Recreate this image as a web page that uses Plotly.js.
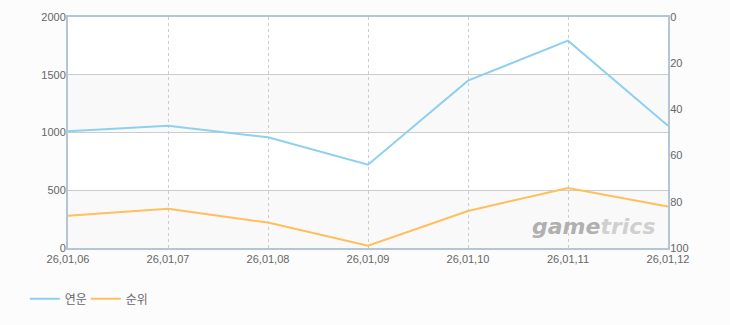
<!DOCTYPE html>
<html>
<head>
<meta charset="utf-8">
<script src="https://cdn.plot.ly/plotly-3.0.1.min.js"></script>
<style>html,body{margin:0;padding:0;background:#fcfcfc;}</style>
</head>
<body>
<div id="chart" style="width:730px;height:325px;"></div>
<script>
const dates = ["26,01,06","26,01,07","26,01,08","26,01,09","26,01,10","26,01,11","26,01,12"];
const yeonun = [1010, 1059, 958, 721, 1449, 1795, 1059];
const rank = [86, 83, 89, 99, 84, 74, 82];
const leftTicks = [0, 500, 1000, 1500, 2000];
const rightTicks = [0, 20, 40, 60, 80, 100];
const bands = [[0, 500], [1000, 1500]];

const xIdx = dates.map((d, i) => i);

const traces = [
  {x: xIdx, y: yeonun, name: "연운", type: "scatter", mode: "lines",
   line: {color: "#8fd0f0", width: 2}, yaxis: "y"},
  {x: xIdx, y: rank, name: "순위", type: "scatter", mode: "lines",
   line: {color: "#ffbf5a", width: 2}, yaxis: "y2"}
];

const shapes = bands.map(b => ({type: "rect", xref: "paper", yref: "y", x0: 0, x1: 1,
  y0: b[0], y1: b[1], fillcolor: "#f9f9f9", line: {width: 0}, layer: "below"}));

const tickFont = {family: "Liberation Sans, DejaVu Sans, sans-serif", size: 11, color: "#666"};
const layout = {
  width: 730, height: 325,
  margin: {l: 68, r: 62, t: 17, b: 77},
  paper_bgcolor: "#fcfcfc", plot_bgcolor: "#ffffff",
  showlegend: true,
  legend: {orientation: "h", x: -0.072, y: -0.22, xanchor: "left", yanchor: "middle",
    font: {family: "Noto Sans CJK KR, sans-serif", size: 12, color: "#666"},
    itemwidth: 30, entrywidth: 16, bgcolor: "rgba(0,0,0,0)"},
  xaxis: {range: [0, 6], tickvals: xIdx, ticktext: dates, showgrid: true,
    gridcolor: "#cccccc", griddash: "3px,3px", gridwidth: 1, zeroline: false,
    showline: true, linecolor: "#b3c5d8", linewidth: 2, mirror: true,
    ticks: "", tickfont: tickFont, fixedrange: true},
  yaxis: {range: [0, 2000], tickvals: leftTicks, showgrid: true, gridcolor: "#cccccc",
    gridwidth: 1, zeroline: false, showline: true, linecolor: "#b3c5d8", linewidth: 2,
    ticks: "", tickfont: tickFont, ticklabelstandoff: -2},
  yaxis2: {range: [100, 0], tickvals: rightTicks, overlaying: "y", side: "right",
    showgrid: false, zeroline: false, showline: true, linecolor: "#b3c5d8", linewidth: 2,
    ticks: "", tickfont: tickFont, ticklabelstandoff: -2},
  shapes: shapes,
  annotations: [{xref: "paper", yref: "paper", x: 0.983, y: 0.03, xanchor: "right", yanchor: "bottom",
    showarrow: false,
    text: "<b><i><span style='color:#b0b0b0'>game</span><span style='color:#d0d0d0'>trics</span></i></b>",
    font: {family: "DejaVu Sans, sans-serif", size: 22}}]
};

Plotly.newPlot("chart", traces, layout, {displayModeBar: false, staticPlot: true});
</script>
</body>
</html>
